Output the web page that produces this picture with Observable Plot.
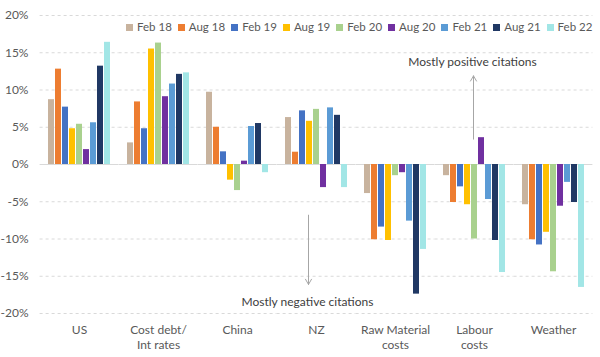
<!DOCTYPE html>
<html><head><meta charset="utf-8">
<script src="https://cdn.jsdelivr.net/npm/d3@7"></script>
<script src="https://cdn.jsdelivr.net/npm/@observablehq/plot@0.6"></script>
<style>
body{margin:0;background:#fff;font-family:Lato, "Open Sans", sans-serif;}
#wrap{position:relative;width:600px;height:357px;}
#legend{position:absolute;left:126px;top:19px;display:flex;gap:6px;font-size:11.5px;color:#595959;line-height:16px;white-space:nowrap;}
.item{display:flex;align-items:center;gap:4px;white-space:nowrap;}
.sw{width:7px;height:7px;flex:none;}
</style></head><body><div id="wrap"><div id="legend"></div></div>
<script>
const categories = ["US", "Cost debt/\nInt rates", "China", "NZ", "Raw Material\ncosts", "Labour\ncosts", "Weather"];
const periods = ["Feb 18", "Aug 18", "Feb 19", "Aug 19", "Feb 20", "Aug 20", "Feb 21", "Aug 21", "Feb 22"];
const colors = ["#c8b39e", "#ed7d31", "#4472c4", "#ffc000", "#a9d18e", "#7030a0", "#5b9bd5", "#203864", "#a2e6e6"];
const feb18 = [8.7, 2.9, 9.7, 6.3, -3.9, -1.5, -5.4];
const aug18 = [12.8, 8.4, 5.0, 1.65, -10.1, -5.1, -10.1];
const feb19 = [7.7, 4.8, 1.7, 7.2, -8.4, -3.0, -10.8];
const aug19 = [4.8, 15.5, -2.1, 5.8, -10.2, -5.4, -9.1];
const feb20 = [5.4, 16.3, -3.5, 7.4, -1.5, -10.0, -14.4];
const aug20 = [2.0, 9.1, 0.45, -3.1, -1.1, 3.6, -5.6];
const feb21 = [5.6, 10.8, 5.1, 7.6, -7.6, -4.7, -2.4];
const aug21 = [13.2, 12.1, 5.5, 6.6, -17.4, -10.2, -5.1];
const feb22 = [16.4, 12.3, -1.1, -3.1, -11.4, -14.5, -16.5];
const yTicks = [-20, -15, -10, -5, 0, 5, 10, 15, 20];

const series = [feb18, aug18, feb19, aug19, feb20, aug20, feb21, aug21, feb22];
const data = [];
periods.forEach((p, i) => categories.forEach((c, j) => data.push({category: c, period: p, value: series[i][j]})));

const notes = [
  {category: "Labour\ncosts", period: "Feb 20", y: 13.7, y1: 3.4, y2: 11.9, text: "Mostly positive citations"},
  {category: "NZ", period: "Aug 19", y: -18.5, y1: -6.8, y2: -16.1, text: "Mostly negative citations"}
];

const gridColor = "#d9d9d9";
const chart = Plot.plot({
  width: 600,
  height: 357,
  marginLeft: 38,
  marginRight: 6,
  marginTop: 15,
  marginBottom: 44,
  style: {fontFamily: "Lato, 'Open Sans', sans-serif", fontSize: "12px", color: "#595959", background: "#fff"},
  fx: {domain: categories, paddingInner: 0.16, paddingOuter: 0.08, label: null},
  x: {domain: periods, axis: null, paddingInner: 0.2, paddingOuter: 0},
  y: {domain: [-20, 20], label: null},
  color: {domain: periods, range: colors},
  marks: [
    Plot.axisFx({anchor: "bottom", label: null, tickSize: 0, tickPadding: 10, lineHeight: 1.25, fontSize: 12}),
    Plot.axisY({ticks: yTicks, tickFormat: d => d + "%", label: null, tickSize: 0, tickPadding: 18, fontSize: 12}),
    Plot.ruleY(yTicks.filter(d => d !== 0), {stroke: gridColor, strokeDasharray: "3,3", insetLeft: -6.4, insetRight: -6.4}),
    Plot.ruleY([0], {stroke: gridColor, strokeWidth: 1.2, insetLeft: -6.4, insetRight: -6.4}),
    Plot.barY(data, {fx: "category", x: "period", y: "value", fill: "period"}),
    Plot.arrow(notes, {fx: "category", x1: "period", x2: "period", y1: "y1", y2: "y2", stroke: "#a6a6a6", strokeWidth: 1, headLength: 9, dx: -1}),
    Plot.text(notes, {fx: "category", x: "period", y: "y", text: "text", fill: "#404040", fontSize: 12, dx: -2})
  ]
});
document.getElementById("wrap").appendChild(chart);

const legend = document.getElementById("legend");
periods.forEach((p, i) => {
  const it = document.createElement("div");
  it.className = "item";
  const sw = document.createElement("span");
  sw.className = "sw";
  sw.style.background = colors[i];
  const t = document.createElement("span");
  t.textContent = p;
  it.appendChild(sw); it.appendChild(t);
  legend.appendChild(it);
});
</script></body></html>
